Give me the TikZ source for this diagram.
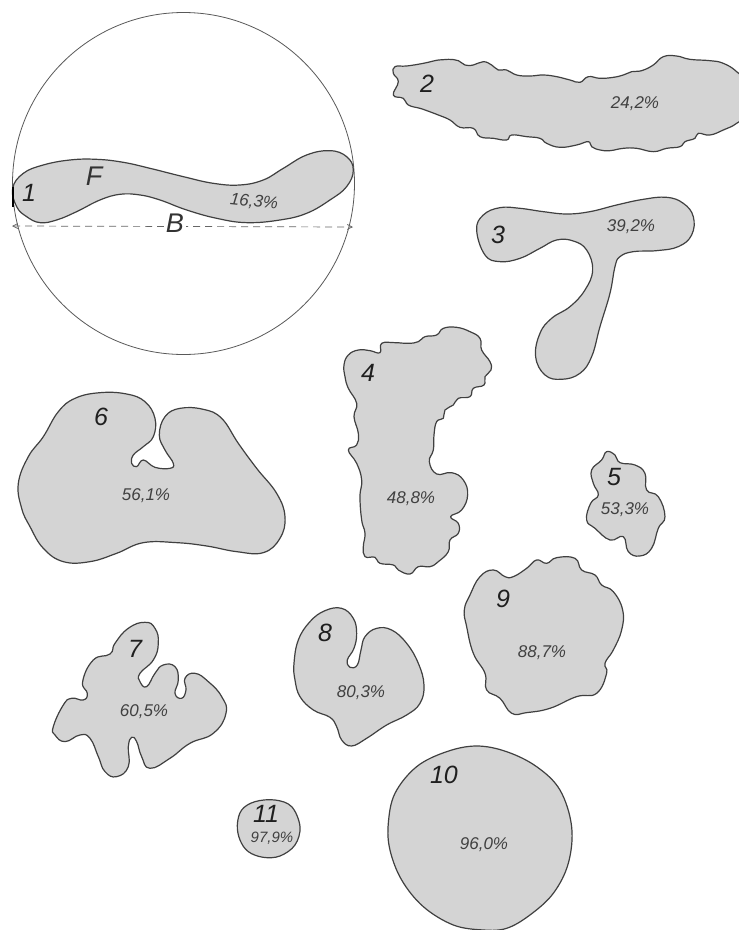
\documentclass[tikz,border=0pt]{standalone}
\usepackage{fontspec}
\setmainfont{Liberation Sans}
\usetikzlibrary{arrows.meta}
\tikzset{
  blob/.style={draw=black!75,fill=black!17,line width=1.2pt,line join=round},
  pct/.style={text=black!75,font=\itshape\fontsize{17}{17}\selectfont,inner sep=0pt},
  pctsmall/.style={text=black!75,font=\itshape\fontsize{15}{15}\selectfont,inner sep=0pt},
  num/.style={text=black!88,font=\itshape\fontsize{25}{25}\selectfont,inner sep=0pt},
  mark letter/.style={text=black!80,font=\itshape\fontsize{27}{27}\selectfont,inner sep=0pt},
}
\newcommand{\blobpath}[2]{\draw[blob] plot[smooth cycle,tension=#1] coordinates {#2};}
\begin{document}
\begin{tikzpicture}[x=1pt,y=-1pt]
\useasboundingbox (0,0) rectangle (739,930);
\fill[white] (0,0) rectangle (739,930);
% circle
\node[circle,draw=black!65,line width=.8pt,minimum size=342pt,inner sep=0pt] (circ) at (183.5,183.5) {};
% shape 1
\begin{scope}[scale=.3333]
\blobpath{.7}{(38,565)(70,520)(130,495)(210,480)(290,478)(370,487)(450,505)(550,530)(640,550)(720,555)(790,540)(850,505)(920,465)(990,452)(1040,470)(1060,510)(1040,560)(990,600)(920,640)(840,660)(740,668)(650,655)(560,630)(480,600)(420,585)(360,583)(300,600)(230,635)(170,660)(120,668)(80,650)(50,620)}
\draw[black,line width=2pt] (38,560) -- (38,620);
\end{scope}
% shape 2
\begin{scope}[shift={(370,40)},scale=.3333]
\blobpath{.75}{(75,80)(110,78)(160,70)(205,60)(235,58)(265,62)(285,75)(310,75)(340,65)(365,75)(385,90)(410,90)(440,105)(480,108)(520,105)(560,110)(600,120)(630,127)(655,110)(690,115)(730,112)(760,105)(785,95)(815,92)(850,75)(880,50)(920,48)(960,58)(1020,62)(1060,70)(1100,95)(1125,130)(1125,220)(1100,250)(1060,270)(1020,285)(985,280)(975,295)(945,305)(930,320)(890,325)(850,335)(800,325)(760,325)(720,332)(690,330)(665,320)(655,305)(620,315)(570,322)(530,310)(510,295)(470,290)(425,285)(410,300)(370,295)(330,290)(310,265)(270,262)(240,240)(205,225)(165,210)(150,205)(115,195)(100,175)(70,165)(85,125)(70,100)}
\end{scope}
% shape 3
\begin{scope}[shift={(370,40)},scale=.3333]
\blobpath{.7}{(320,570)(340,525)(390,503)(450,505)(520,515)(590,522)(660,515)(740,495)(820,478)(890,472)(940,490)(970,530)(965,585)(925,620)(860,632)(790,635)(750,650)(735,680)(720,760)(690,860)(665,950)(630,1000)(575,1018)(525,1005)(497,950)(510,880)(545,835)(600,800)(645,750)(668,690)(650,630)(610,603)(560,600)(510,625)(450,655)(390,665)(345,645)}
\end{scope}
% shapes 4, 5, 9
\begin{scope}[shift={(330,320)},scale=.3333]
\blobpath{.75}{(42,135)(55,105)(85,90)(120,92)(150,98)(155,70)(195,68)(235,70)(265,65)(285,50)(320,45)(340,25)(380,22)(420,35)(450,55)(455,90)(480,125)(483,150)(465,170)(462,195)(430,205)(420,230)(385,235)(370,255)(345,270)(340,295)(320,305)(312,345)(310,390)(298,425)(320,462)(365,458)(400,480)(413,525)(395,570)(362,590)(385,610)(385,640)(360,660)(355,695)(325,725)(300,740)(265,740)(240,762)(205,750)(190,735)(150,730)(135,712)(105,710)(100,680)(105,640)(95,600)(90,530)(95,480)(80,430)(55,390)(80,375)(85,340)(72,290)(80,250)(55,205)(45,170)}
\blobpath{.75}{(785,450)(815,420)(830,395)(855,405)(870,428)(915,435)(945,460)(950,510)(985,530)(1005,590)(985,625)(965,685)(930,708)(895,695)(880,650)(840,660)(795,625)(770,600)(782,550)(805,525)(790,490)}
\blobpath{.75}{(403,870)(420,825)(450,770)(490,750)(525,770)(550,770)(590,745)(620,720)(650,730)(680,713)(735,715)(755,750)(795,765)(815,795)(850,815)(878,870)(875,930)(850,990)(825,1030)(830,1060)(800,1120)(740,1130)(660,1165)(590,1178)(545,1180)(510,1135)(470,1110)(465,1060)(430,1000)(410,920)}
\end{scope}
% shapes 6, 7
\begin{scope}[shift={(0,380)},scale=.3333]
\blobpath{.7}{(55,310)(85,230)(130,170)(175,95)(225,55)(300,38)(380,42)(435,65)(465,115)(460,170)(430,200)(400,225)(395,250)(410,260)(430,240)(465,262)(510,265)(520,250)(495,210)(478,165)(495,110)(540,85)(610,88)(665,115)(715,190)(770,265)(830,340)(855,410)(840,475)(790,518)(710,515)(620,498)(530,488)(430,488)(350,520)(270,545)(190,545)(130,505)(90,440)(65,385)}
\blobpath{.8}{(160,1040)(190,975)(215,955)(250,960)(262,940)(248,905)(280,840)(330,822)(345,790)(385,745)(435,727)(465,745)(475,790)(460,840)(420,880)(420,905)(440,920)(465,880)(490,855)(525,860)(535,900)(525,940)(545,955)(558,930)(555,895)(585,880)(625,905)(665,950)(678,1000)(640,1060)(570,1090)(510,1135)(450,1165)(425,1130)(410,1085)(395,1072)(385,1100)(385,1160)(350,1190)(315,1175)(295,1130)(270,1075)(240,1065)(195,1085)(165,1065)}
\end{scope}
% shape 8
\begin{scope}[shift={(280,590)},scale=.3333]
\blobpath{.7}{(42,220)(55,150)(90,95)(135,62)(185,55)(220,85)(230,130)(222,175)(202,210)(210,232)(232,225)(243,180)(255,140)(290,115)(335,120)(380,160)(415,220)(432,285)(420,340)(380,375)(320,405)(260,445)(215,468)(185,450)(170,410)(150,382)(100,360)(60,320)(45,270)}
\end{scope}
% shapes 10, 11
\begin{scope}[shift={(220,730)},scale=.3333]
\blobpath{.6}{(505,280)(525,190)(590,110)(680,65)(770,48)(860,65)(950,110)(1020,180)(1055,290)(1045,400)(1000,490)(930,555)(860,595)(790,600)(700,585)(610,530)(545,450)(510,360)}
\blobpath{.6}{(52,285)(65,240)(105,215)(165,210)(215,230)(240,290)(225,345)(180,378)(130,382)(85,365)(60,330)}
\end{scope}
% diameter B
\coordinate (bl) at (12,226);
\coordinate (br) at (353,227);
\draw[black!60,dashed,dash pattern=on 7pt off 5pt,line width=.7pt,{Straight Barb[length=5pt,width=5pt]}-{Straight Barb[length=5pt,width=5pt]}] (bl) -- (br);
\node[mark letter,fill=white,inner xsep=2pt] (lB) at (175,223) {B};
\node[mark letter] (lF) at (94,176) {F};
% labels
\node[num] (n1) at (29,193) {1};
\node[pct,rotate=-6] (p1) at (254,202) {16,3\%};
\node[num] (n2) at (427,84) {2};
\node[pct] (p2) at (635,104) {24,2\%};
\node[num] (n3) at (498,235) {3};
\node[pct] (p3) at (631,227) {39,2\%};
\node[num] (n4) at (368,373) {4};
\node[pct] (p4) at (411,499) {48,8\%};
\node[num] (n5) at (614,477) {5};
\node[pct] (p5) at (625,510) {53,3\%};
\node[num] (n6) at (101,417) {6};
\node[pct] (p6) at (146,496) {56,1\%};
\node[num] (n7) at (135,649) {7};
\node[pct] (p7) at (144,712) {60,5\%};
\node[num] (n8) at (325,633) {8};
\node[pct] (p8) at (361,693) {80,3\%};
\node[num] (n9) at (503,599) {9};
\node[pct] (p9) at (542,653) {88,7\%};
\node[num] (n10) at (444,775) {10};
\node[pct] (p10) at (484,845) {96,0\%};
\node[num] (n11) at (266,814) {11};
\node[pctsmall] (p11) at (272,838) {97,9\%};
\end{tikzpicture}
\end{document}
